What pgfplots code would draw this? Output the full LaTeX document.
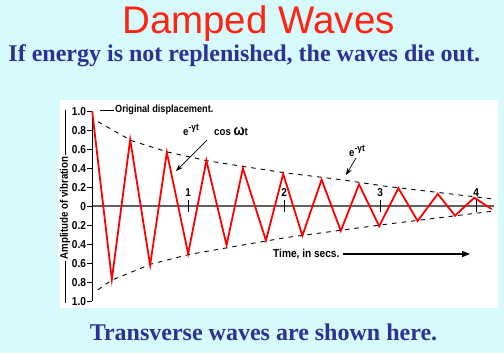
\documentclass[border=0pt]{standalone}
\usepackage{fontspec}
\setmainfont{Liberation Serif}
\newfontfamily\arial{Liberation Sans}
\newfontfamily\arialn[FakeStretch=0.88]{Liberation Sans}
\usepackage{pgfplots}
\pgfplotsset{compat=1.18}
\usetikzlibrary{arrows.meta}
\definecolor{bgcyan}{RGB}{215,250,252}
\definecolor{titlered}{RGB}{255,35,20}
\definecolor{subblue}{RGB}{45,48,148}
\newcommand{\lbl}[1]{\arialn\bfseries\fontsize{#1}{#1}\selectfont}
\newcommand{\supx}[1]{\raisebox{4.5bp}{\fontsize{9.5bp}{9.5bp}\selectfont #1}}
\begin{document}
\begin{tikzpicture}[x=1bp,y=1bp]
\path[use as bounding box, fill=bgcyan] (0,0) rectangle (504,353);
\fill[white] (60,45) rectangle (498,253);
\node[anchor=base, text=titlered, font=\arial\fontsize{38.5bp}{40bp}\selectfont, inner sep=0] at (258.5,320) {Damped Waves};
\node[anchor=base west, text=subblue, font=\bfseries\fontsize{24bp}{26bp}\selectfont, inner sep=0] at (8.3,291.3) {If energy is not replenished, the waves die out.};
\node[anchor=base, text=subblue, font=\bfseries\fontsize{24bp}{26bp}\selectfont, inner sep=0] at (263.5,13) {Transverse waves are shown here.};
\draw[line width=0.8bp] (65,50) -- (65,243);
\node[rotate=90, fill=white, inner sep=1.5bp, font=\lbl{11bp}] at (65,145) {Amplitude of vibration};
\begin{axis}[
  at={(96,54.5)}, anchor=south west, scale only axis,
  width=402.24bp, height=190bp,
  xmin=0, xmax=4.19, ymin=-1, ymax=1,
  axis x line=middle, axis y line=left,
  hide obscured x ticks=false, hide obscured y ticks=false,
  x axis line style={draw=black!62, line width=1.6bp, -},
  y axis line style={draw=black, line width=0.8bp, -},
  xtick=\empty,
  ytick={-1,-0.8,-0.6,-0.4,-0.2,0,0.2,0.4,0.6,0.8,1},
  yticklabels={1.0,0.8,0.6,0.4,0.2,0,0.2,0.4,0.6,0.8,1.0},
  ytick align=outside, major tick length=5bp,
  y tick style={black, line width=0.8bp},
  yticklabel style={font=\lbl{11.5bp}, inner sep=1bp},
  clip=false,
]
\addplot[black, line width=0.9bp, dash pattern=on 4.5bp off 5bp] coordinates {
(0.06,0.89) (0.41,0.69) (0.79,0.57) (1.19,0.48) (1.5,0.43) (2.02,0.35) (2.59,0.28) (3.06,0.21) (4.19,0.075)};
\addplot[black, line width=0.9bp, dash pattern=on 4.5bp off 5bp] coordinates {
(0.06,-0.88) (0.20,-0.78) (0.61,-0.61) (1.0,-0.51) (1.5,-0.42) (2.02,-0.33) (3.06,-0.19) (4.19,-0.05)};
\addplot[red, line width=1.8bp] coordinates {
(0,1.0) (0.205,-0.77) (0.396,0.70) (0.604,-0.62) (0.778,0.567) (1.0,-0.50) (1.19,0.48) (1.40,-0.41) (1.57,0.40) (1.81,-0.36) (1.99,0.34) (2.19,-0.31) (2.39,0.28) (2.59,-0.26) (2.78,0.23) (2.99,-0.21) (3.19,0.19) (3.39,-0.155) (3.60,0.13) (3.78,-0.10) (3.98,0.09) (4.16,-0.03)};
\draw[line width=1.3bp] (axis cs:1,0) ++(0pt,-6bp) -- ++(0pt,12bp);
\draw[line width=1.3bp] (axis cs:2,0) ++(0pt,-6bp) -- ++(0pt,12bp);
\draw[line width=1.3bp] (axis cs:3,0) ++(0pt,-6bp) -- ++(0pt,12bp);
\draw[line width=1.3bp] (axis cs:4,0) ++(0pt,-6bp) -- ++(0pt,12bp);
\node[font=\lbl{11.5bp}, yshift=13.5bp] at (axis cs:1,0) {1};
\node[font=\lbl{11.5bp}, yshift=13.5bp] at (axis cs:2,0) {2};
\node[font=\lbl{11.5bp}, yshift=13.5bp] at (axis cs:3,0) {3};
\node[font=\lbl{11.5bp}, yshift=13.5bp] at (axis cs:4,0) {4};
\end{axis}
\draw[line width=0.7bp] (100,243) -- (114,243);
\node[anchor=west, inner sep=0, font=\lbl{10.4bp}] at (115,243) {Original displacement.};
\node[anchor=base west, inner sep=0, font=\lbl{11bp}] at (183,218) {e\supx{-γt}};
\node[anchor=base west, inner sep=0, font=\lbl{11bp}] at (214,218) {cos {\fontsize{15bp}{15bp}\selectfont ω}t};
\draw[line width=0.7bp, -{Stealth[length=7bp,width=5bp]}] (207,213) -- (176,182);
\node[anchor=base west, inner sep=0, font=\lbl{11bp}] at (349,197) {e\supx{-γt}};
\draw[line width=0.7bp, -{Stealth[length=7bp,width=5bp]}] (356,195) -- (346,178);
\node[anchor=base west, inner sep=0, font=\lbl{11.5bp}] at (273,95.5) {Time, in secs.};
\draw[line width=1.2bp, -{Triangle[length=8bp,width=6bp]}] (343,99) -- (470,99);
\end{tikzpicture}
\end{document}
